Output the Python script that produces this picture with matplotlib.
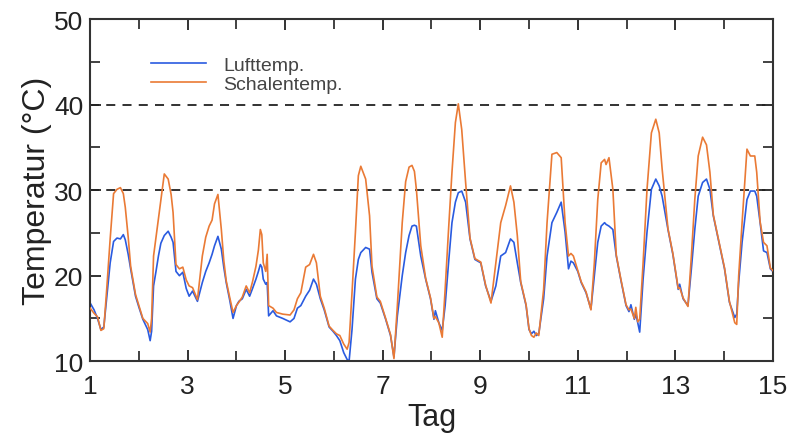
import numpy as np
import matplotlib.pyplot as plt
from matplotlib.ticker import MultipleLocator

# Messwerte (Tag, Lufttemperatur, Schalentemperatur) in °C
tag = [1.00, 1.08, 1.15, 1.22, 1.28, 1.34, 1.41, 1.48, 1.55, 1.62, 1.68, 1.72, 1.78, 1.83, 1.93,
       2.00, 2.08, 2.18, 2.23, 2.26, 2.30, 2.35, 2.40, 2.45, 2.52, 2.60, 2.66, 2.70, 2.76, 2.83,
       2.90, 2.97, 3.03, 3.10, 3.20, 3.30, 3.37, 3.44, 3.50, 3.55, 3.62, 3.69, 3.74, 3.79, 3.86,
       3.93, 4.00, 4.05, 4.12, 4.20, 4.27, 4.33, 4.40, 4.45, 4.49, 4.52, 4.55, 4.60, 4.63, 4.66,
       4.75, 4.82, 4.95, 5.10, 5.18, 5.25, 5.32, 5.42, 5.50, 5.58, 5.64, 5.72, 5.80, 5.90, 5.98,
       6.05, 6.12, 6.20, 6.27, 6.31, 6.37, 6.44, 6.50, 6.55, 6.65, 6.73, 6.78, 6.88, 6.95, 7.06,
       7.16, 7.23, 7.30, 7.40, 7.47, 7.54, 7.60, 7.65, 7.69, 7.78, 7.88, 7.98, 8.05, 8.08, 8.15,
       8.22, 8.28, 8.35, 8.42, 8.49, 8.55, 8.62, 8.70, 8.79, 8.89, 9.01, 9.11, 9.22, 9.32, 9.42,
       9.52, 9.62, 9.69, 9.76, 9.83, 9.94, 10.00, 10.05, 10.10, 10.15, 10.20, 10.30, 10.37, 10.47, 10.57,
       10.66, 10.74, 10.81, 10.86, 10.91, 11.00, 11.07, 11.17, 11.27, 11.34, 11.41, 11.48, 11.55, 11.58, 11.64,
       11.72, 11.79, 11.88, 11.99, 12.05, 12.09, 12.16, 12.19, 12.23, 12.27, 12.34, 12.42, 12.51, 12.60, 12.67,
       12.73, 12.85, 12.95, 13.06, 13.09, 13.16, 13.26, 13.33, 13.40, 13.47, 13.56, 13.64, 13.71, 13.78, 13.91,
       14.01, 14.11, 14.22, 14.26, 14.30, 14.37, 14.47, 14.54, 14.63, 14.67, 14.74, 14.81, 14.88, 14.95, 15.00]

luft = [16.8, 16.0, 15.0, 13.7, 14.0, 17.5, 21.5, 24.0, 24.4, 24.3, 24.8, 24.2, 22.5, 20.8, 17.6,
        16.3, 14.9, 13.7, 12.4, 13.5, 18.8, 20.5, 22.3, 23.8, 24.7, 25.2, 24.5, 23.9, 20.5, 20.0,
        20.4, 18.5, 17.6, 18.2, 17.0, 19.2, 20.5, 21.5, 22.5, 23.5, 24.6, 23.1, 21.0, 19.2, 17.2,
        15.0, 16.5, 17.0, 17.3, 18.4, 17.6, 18.5, 19.6, 20.5, 21.3, 21.0, 19.6, 19.0, 19.2, 15.3,
        15.9, 15.3, 15.0, 14.6, 15.0, 16.2, 16.5, 17.6, 18.3, 19.6, 19.0, 17.3, 16.0, 14.0, 13.5,
        13.0, 12.4, 11.0, 10.2, 10.0, 13.7, 19.6, 21.9, 22.7, 23.3, 23.1, 20.4, 17.3, 16.8, 14.9,
        13.0, 10.5, 15.3, 20.0, 22.7, 24.7, 25.8, 25.9, 25.8, 22.3, 19.6, 17.3, 14.9, 15.9, 14.5,
        13.6, 16.5, 21.5, 26.2, 28.6, 29.7, 29.9, 28.6, 24.3, 21.9, 21.5, 18.8, 17.0, 18.8, 22.3,
        22.7, 24.3, 23.9, 21.5, 19.2, 16.5, 13.7, 13.2, 13.5, 13.0, 13.2, 17.3, 22.3, 26.2, 27.4,
        28.6, 25.1, 20.8, 21.7, 21.5, 20.5, 19.2, 18.0, 16.1, 20.0, 23.9, 25.8, 26.2, 26.0, 25.8,
        25.4, 22.3, 19.6, 16.5, 15.8, 16.6, 14.9, 15.5, 14.5, 13.4, 19.6, 25.1, 30.1, 31.3, 30.5,
        29.3, 25.4, 22.5, 18.4, 19.0, 17.3, 16.5, 20.8, 25.4, 29.3, 30.9, 31.3, 30.1, 27.0, 23.5,
        20.8, 16.9, 15.1, 15.5, 19.2, 23.9, 28.9, 29.9, 29.9, 29.3, 26.2, 22.9, 22.7, 20.8, 20.5]

schale = [16.2, 15.6, 15.2, 13.6, 13.8, 18.5, 24.3, 29.6, 30.1, 30.3, 29.6, 28.0, 24.5, 21.1, 17.8,
          16.5, 15.0, 14.4, 13.4, 15.0, 22.3, 24.5, 26.8, 29.0, 31.9, 31.3, 29.5, 27.4, 21.3, 20.8,
          21.0, 19.5, 18.8, 18.6, 17.2, 22.3, 24.5, 25.8, 26.5, 28.4, 29.5, 25.4, 21.8, 19.4, 17.5,
          15.7, 16.5, 16.9, 17.5, 18.8, 18.0, 19.3, 21.1, 23.0, 25.4, 24.8, 21.5, 20.5, 22.5, 16.5,
          16.2, 15.7, 15.5, 15.4, 16.0, 17.3, 18.0, 21.0, 21.3, 22.5, 21.5, 17.6, 16.2, 14.1, 13.6,
          13.2, 13.0, 12.0, 11.4, 12.2, 18.0, 25.1, 31.7, 32.8, 31.3, 27.0, 21.1, 17.5, 17.0, 15.0,
          13.1, 10.3, 16.5, 26.2, 31.0, 32.7, 32.9, 32.2, 30.1, 23.5, 19.7, 17.4, 15.0, 15.2, 14.5,
          12.8, 18.4, 25.4, 32.1, 37.9, 40.1, 37.1, 30.9, 24.4, 22.0, 21.6, 18.9, 16.8, 21.5, 26.2,
          28.2, 30.5, 28.6, 24.7, 19.3, 16.6, 13.8, 13.0, 12.8, 13.3, 13.0, 18.4, 26.2, 34.2, 34.4,
          33.8, 26.2, 22.3, 22.6, 22.3, 20.6, 19.3, 18.1, 16.0, 21.5, 28.9, 33.2, 33.6, 33.0, 33.8,
          30.1, 22.4, 19.7, 16.6, 16.0, 16.1, 15.0, 16.3, 14.6, 14.9, 21.5, 30.1, 36.7, 38.3, 36.7,
          32.5, 25.5, 22.6, 18.5, 18.6, 17.4, 16.4, 22.3, 28.9, 34.0, 36.2, 35.3, 32.1, 27.1, 23.6,
          20.9, 17.0, 14.5, 14.3, 20.0, 26.2, 34.8, 34.0, 34.0, 32.1, 26.3, 23.9, 23.5, 20.9, 20.6]

grenzwerte = [30, 40]
tage_beschriftet = list(range(1, 16, 2))

plt.rcParams['font.family'] = ['Liberation Sans', 'DejaVu Sans']

fig = plt.figure(figsize=(7.91, 4.39), dpi=100)
ax = fig.add_axes([0.114, 0.175, 0.863, 0.779])

for g in grenzwerte:
    ax.axhline(g, color='#222222', lw=1.3, dashes=(5, 4), zorder=1)

ax.plot(tag, luft, color='#2a5be0', lw=1.2, label='Lufttemp.', zorder=2)
ax.plot(tag, schale, color='#ea7a35', lw=1.2, label='Schalentemp.', zorder=3)

ax.set_xlim(1, 15)
ax.set_ylim(10, 50)
ax.set_xticks(tage_beschriftet)
ax.xaxis.set_minor_locator(MultipleLocator(1))
ax.yaxis.set_major_locator(MultipleLocator(10))
ax.yaxis.set_minor_locator(MultipleLocator(5))
ax.tick_params(which='both', direction='in', top=True, right=True,
               color='#333333', width=1.3)
ax.tick_params(which='major', length=8, labelsize=19, colors='#222222')
ax.tick_params(which='minor', length=7)
ax.tick_params(axis='x', which='major', pad=9)
ax.tick_params(axis='y', which='major', pad=5)

for s in ax.spines.values():
    s.set_color('#333333')
    s.set_linewidth(1.5)

ax.set_xlabel('Tag', fontsize=22, color='#222222', labelpad=3)
ax.set_ylabel('Temperatur (°C)', fontsize=23, color='#222222', labelpad=1)

leg = ax.legend(loc='upper left', bbox_to_anchor=(0.078, 0.915), frameon=False,
                fontsize=14, handlelength=2.8, handletextpad=0.9,
                labelspacing=0.1, borderaxespad=0)
for t in leg.get_texts():
    t.set_color('#444444')

fig.savefig('out.png', dpi=100)
